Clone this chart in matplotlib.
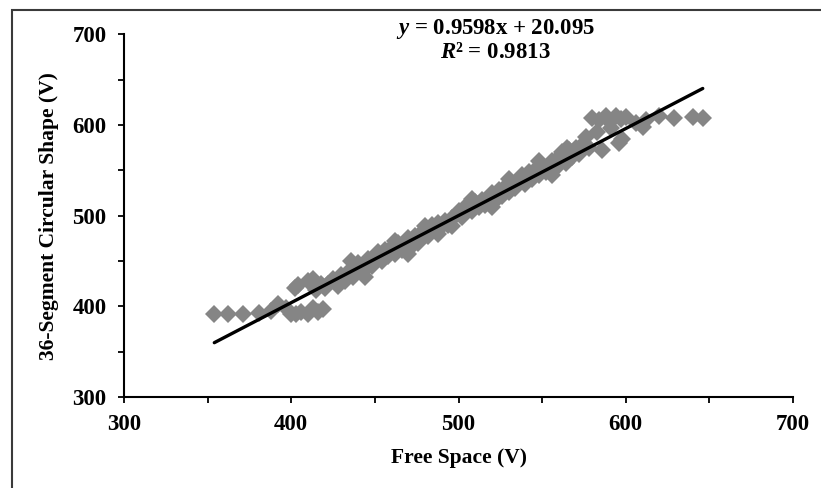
import numpy as np
import matplotlib

matplotlib.use("Agg")
import matplotlib.pyplot as plt
from matplotlib.patches import Rectangle
from matplotlib.ticker import MultipleLocator

# Measured output voltages: free space (x) vs. 36-segment circular shape (y)
free_space = [
    354, 362, 371, 381, 388, 392, 397, 400, 403, 406, 410, 413, 416, 419,
    402, 404, 410, 413, 418, 415, 420,
    422, 425, 428, 430, 432, 435, 437, 440, 442, 444, 446, 448, 450, 452,
    454, 456, 458, 460, 462, 464, 466, 468, 470, 472, 474, 476, 478, 480,
    482, 484, 486, 488, 490, 492, 494, 496, 498, 500, 502, 504, 506, 508,
    510, 512, 514, 516, 518, 520, 522, 524, 526, 528, 530, 532, 534, 536,
    538, 540, 542, 544, 546, 548, 550, 552, 554, 556, 558, 560, 562, 564,
    566, 568, 570, 572, 575, 578,
    436, 444, 462, 470, 488, 496, 508, 520, 530, 548, 556, 565,
    580, 584, 588, 590, 594, 597, 600, 606, 612, 620, 629, 640, 646, 610,
    596, 586, 576, 591, 598, 583,
]
circular_36 = [
    392, 392, 392, 393, 395, 402, 398, 392, 392, 394, 392, 398, 394, 397,
    420, 424, 428, 430, 425, 418, 420,
    425, 430, 422, 435, 428, 440, 432, 448, 438, 445, 452, 444, 455, 460,
    450, 462, 455, 465, 458, 470, 462, 468, 475, 466, 478, 470, 482, 488,
    478, 490, 485, 492, 488, 494, 490, 497, 500, 505, 498, 510, 512, 505,
    515, 510, 517, 512, 520, 525, 516, 528, 522, 532, 526, 535, 530, 540,
    545, 535, 548, 540, 550, 545, 552, 548, 555, 560, 552, 565, 570, 558,
    572, 565, 575, 568, 580, 575,
    450, 432, 472, 458, 480, 488, 518, 510, 540, 560, 545, 575,
    608, 605, 610, 604, 610, 606, 609, 602, 605, 610, 608, 609, 608, 598,
    580, 572, 587, 597, 584, 592,
]

slope, intercept, r2 = 0.9598, 20.095, 0.9813

plt.rcParams["font.family"] = ["Liberation Serif", "DejaVu Serif"]
plt.rcParams["font.weight"] = "bold"
plt.rcParams["mathtext.fontset"] = "custom"
plt.rcParams["mathtext.rm"] = "Liberation Serif:bold"
plt.rcParams["mathtext.it"] = "Liberation Serif:italic:bold"

fig = plt.figure(figsize=(8.21, 4.88), dpi=100)
ax = fig.add_axes([0.151, 0.1865, 0.815, 0.7435])

x = np.array(free_space, dtype=float)
y = np.array(circular_36, dtype=float)
ax.plot(x, y, linestyle="none", marker="D", markersize=9.5,
        color="#858585", markeredgewidth=0)

# linear trend line over the data range
xl = np.array([x.min(), x.max()])
ax.plot(xl, slope * xl + intercept, color="black", linewidth=2.4,
        solid_capstyle="round")

ax.set_xlim(300, 700)
ax.set_ylim(300, 700)
ax.xaxis.set_major_locator(MultipleLocator(100))
ax.yaxis.set_major_locator(MultipleLocator(100))
ax.xaxis.set_minor_locator(MultipleLocator(50))
ax.yaxis.set_minor_locator(MultipleLocator(50))

for s in ("top", "right"):
    ax.spines[s].set_visible(False)
for s in ("left", "bottom"):
    ax.spines[s].set_linewidth(1.5)
ax.tick_params(which="both", direction="out", width=1.3, length=4.5,
               labelsize=16.5)
ax.tick_params(axis="x", pad=8)
ax.tick_params(axis="y", pad=8)

ax.set_xlabel("Free Space (V)", fontsize=15.5, fontweight="bold", labelpad=9)
ax.set_ylabel("36-Segment Circular Shape (V)", fontsize=15.5,
              fontweight="bold", labelpad=10)

fig.text(0.603, 0.94, f"$y$ = {slope}x + {intercept}", ha="center",
         va="center", fontsize=16.5, fontweight="bold")
fig.text(0.603, 0.892, f"$R$² = {r2}", ha="center", va="center",
         fontsize=16.5, fontweight="bold")

# outer chart frame
fig.add_artist(Rectangle((12 / 821, -0.1), 1.2, 1.1 - 10 / 488,
                         transform=fig.transFigure, fill=False,
                         edgecolor="#3a3a3a", linewidth=1.5))

fig.savefig("out.png", dpi=100)
